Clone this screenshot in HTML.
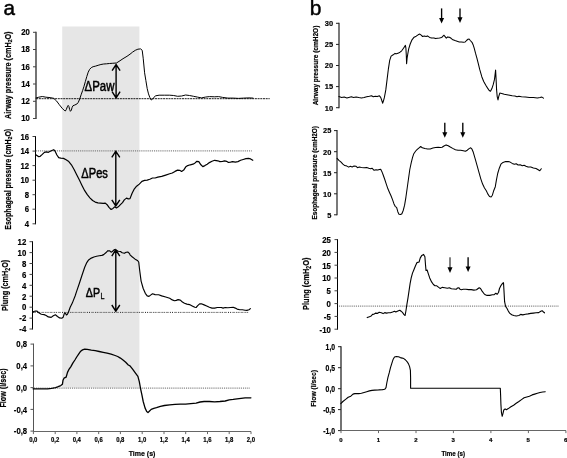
<!DOCTYPE html>
<html><head><meta charset="utf-8"><title>Figure</title>
<style>
html,body{margin:0;padding:0;background:#fff;}
body{width:567px;height:458px;overflow:hidden;}
svg{display:block;font-family:"Liberation Sans",sans-serif;fill:#000;will-change:transform;filter:grayscale(1);}
</style></head><body>
<svg width="567" height="458" viewBox="0 0 567 458">
<rect x="0" y="0" width="567" height="458" fill="#fff"/>
<rect x="62.2" y="26.5" width="77.2" height="361.2" fill="#e6e6e6"/>
<text x="3.5" y="14.6" font-size="20.6" stroke="#000" stroke-width="0.5">a</text>
<path d="M36.0,31.799999999999997 V119.0" stroke="#000" stroke-width="1.1" fill="none"/>
<path d="M33.0,32.3 H36.0M33.0,49.5 H36.0M33.0,66.8 H36.0M33.0,84.0 H36.0M33.0,101.3 H36.0M33.0,118.5 H36.0" stroke="#444" stroke-width="1" fill="none"/>
<text transform="translate(29.9,35.14) scale(0.86,1)" font-size="9.0" font-weight="bold" text-anchor="end" stroke="#000" stroke-width="0.2">20</text>
<text transform="translate(29.9,52.38) scale(0.86,1)" font-size="9.0" font-weight="bold" text-anchor="end" stroke="#000" stroke-width="0.2">18</text>
<text transform="translate(29.9,69.62) scale(0.86,1)" font-size="9.0" font-weight="bold" text-anchor="end" stroke="#000" stroke-width="0.2">16</text>
<text transform="translate(29.9,86.86) scale(0.86,1)" font-size="9.0" font-weight="bold" text-anchor="end" stroke="#000" stroke-width="0.2">14</text>
<text transform="translate(29.9,104.10) scale(0.86,1)" font-size="9.0" font-weight="bold" text-anchor="end" stroke="#000" stroke-width="0.2">12</text>
<text transform="translate(29.9,121.34) scale(0.86,1)" font-size="9.0" font-weight="bold" text-anchor="end" stroke="#000" stroke-width="0.2">10</text>
<text transform="translate(10.8,75.2) rotate(-90)" font-size="8.4" font-weight="bold" text-anchor="middle" textLength="87.5" lengthAdjust="spacingAndGlyphs" stroke="#000" stroke-width="0.2">Airway pressure (cmH<tspan font-size="70%" dy="1.2">2</tspan><tspan dy="-1.2">O</tspan>)</text>
<path d="M36.2,98.7 H269.7" stroke="#000" stroke-width="0.9" stroke-dasharray="2 0.7" fill="none"/>
<path d="M35.5,136.0 V224.3" stroke="#000" stroke-width="1.0" fill="none"/>
<path d="M32.5,136.5 H35.5M32.5,151.1 H35.5M32.5,165.6 H35.5M32.5,180.2 H35.5M32.5,194.7 H35.5M32.5,209.2 H35.5M32.5,223.8 H35.5" stroke="#444" stroke-width="1" fill="none"/>
<text transform="translate(29.0,139.74) scale(0.86,1)" font-size="9.0" font-weight="bold" text-anchor="end" stroke="#000" stroke-width="0.2">16</text>
<text transform="translate(29.0,154.29) scale(0.86,1)" font-size="9.0" font-weight="bold" text-anchor="end" stroke="#000" stroke-width="0.2">14</text>
<text transform="translate(29.0,168.84) scale(0.86,1)" font-size="9.0" font-weight="bold" text-anchor="end" stroke="#000" stroke-width="0.2">12</text>
<text transform="translate(29.0,183.39) scale(0.86,1)" font-size="9.0" font-weight="bold" text-anchor="end" stroke="#000" stroke-width="0.2">10</text>
<text transform="translate(29.0,197.94) scale(0.86,1)" font-size="9.0" font-weight="bold" text-anchor="end" stroke="#000" stroke-width="0.2">8</text>
<text transform="translate(29.0,212.49) scale(0.86,1)" font-size="9.0" font-weight="bold" text-anchor="end" stroke="#000" stroke-width="0.2">6</text>
<text transform="translate(29.0,227.04) scale(0.86,1)" font-size="9.0" font-weight="bold" text-anchor="end" stroke="#000" stroke-width="0.2">4</text>
<text transform="translate(10.6,179.3) rotate(-90)" font-size="8.4" font-weight="bold" text-anchor="middle" textLength="101" lengthAdjust="spacingAndGlyphs" stroke="#000" stroke-width="0.2">Esophageal pressure (cmH<tspan font-size="70%" dy="1.2">2</tspan><tspan dy="-1.2">O</tspan>)</text>
<path d="M36.2,150.9 H251.7" stroke="#7a7a7a" stroke-width="1.25" stroke-dasharray="0.95 0.95" fill="none"/>
<path d="M32.5,241.2 V329.5" stroke="#000" stroke-width="1.0" fill="none"/>
<path d="M29.5,241.7 H32.5M29.5,252.6 H32.5M29.5,263.5 H32.5M29.5,274.4 H32.5M29.5,285.3 H32.5M29.5,296.2 H32.5M29.5,307.2 H32.5M29.5,318.1 H32.5M29.5,329.0 H32.5" stroke="#444" stroke-width="1" fill="none"/>
<text transform="translate(26.3,245.01) scale(0.85,1)" font-size="9.2" font-weight="bold" text-anchor="end" stroke="#000" stroke-width="0.2">12</text>
<text transform="translate(26.3,255.92) scale(0.85,1)" font-size="9.2" font-weight="bold" text-anchor="end" stroke="#000" stroke-width="0.2">10</text>
<text transform="translate(26.3,266.83) scale(0.85,1)" font-size="9.2" font-weight="bold" text-anchor="end" stroke="#000" stroke-width="0.2">8</text>
<text transform="translate(26.3,277.74) scale(0.85,1)" font-size="9.2" font-weight="bold" text-anchor="end" stroke="#000" stroke-width="0.2">6</text>
<text transform="translate(26.3,288.65) scale(0.85,1)" font-size="9.2" font-weight="bold" text-anchor="end" stroke="#000" stroke-width="0.2">4</text>
<text transform="translate(26.3,299.56) scale(0.85,1)" font-size="9.2" font-weight="bold" text-anchor="end" stroke="#000" stroke-width="0.2">2</text>
<text transform="translate(26.3,310.47) scale(0.85,1)" font-size="9.2" font-weight="bold" text-anchor="end" stroke="#000" stroke-width="0.2">0</text>
<text transform="translate(26.3,321.38) scale(0.85,1)" font-size="9.2" font-weight="bold" text-anchor="end" stroke="#000" stroke-width="0.2">-2</text>
<text transform="translate(26.3,332.29) scale(0.85,1)" font-size="9.2" font-weight="bold" text-anchor="end" stroke="#000" stroke-width="0.2">-4</text>
<text transform="translate(8.3,285.4) rotate(-90)" font-size="9.6" font-weight="bold" text-anchor="middle" textLength="51.3" lengthAdjust="spacingAndGlyphs" stroke="#000" stroke-width="0.2">Plung (cmH<tspan font-size="70%" dy="1.2">2</tspan><tspan dy="-1.2">O</tspan>)</text>
<path d="M33,312.4 H249" stroke="#808080" stroke-width="1" stroke-dasharray="3 5.3" fill="none"/><path d="M33,312.4 H249" stroke="#222" stroke-width="1" stroke-dasharray="0 4.1 1 1.1 1 1.1" fill="none"/>
<path d="M33.5,343.6 V432.0" stroke="#555" stroke-width="1.0" fill="none"/>
<path d="M30.5,344.1 H33.5M30.5,365.9 H33.5M30.5,387.6 H33.5M30.5,409.4 H33.5M30.5,431.1 H33.5" stroke="#555" stroke-width="1" fill="none"/>
<text transform="translate(27.1,347.45) scale(0.83,1)" font-size="9.3" font-weight="bold" text-anchor="end" stroke="#000" stroke-width="0.2">0,8</text>
<text transform="translate(27.1,369.20) scale(0.83,1)" font-size="9.3" font-weight="bold" text-anchor="end" stroke="#000" stroke-width="0.2">0,4</text>
<text transform="translate(27.1,390.95) scale(0.83,1)" font-size="9.3" font-weight="bold" text-anchor="end" stroke="#000" stroke-width="0.2">0,0</text>
<text transform="translate(27.1,412.70) scale(0.83,1)" font-size="9.3" font-weight="bold" text-anchor="end" stroke="#000" stroke-width="0.2">-0,4</text>
<text transform="translate(27.1,434.45) scale(0.83,1)" font-size="9.3" font-weight="bold" text-anchor="end" stroke="#000" stroke-width="0.2">-0,8</text>
<text transform="translate(6.0,387.9) rotate(-90)" font-size="9.0" font-weight="bold" text-anchor="middle" textLength="39.3" lengthAdjust="spacingAndGlyphs" stroke="#000" stroke-width="0.2">Flow (l/sec)</text>
<path d="M34,388.0 H249.6" stroke="#7a7a7a" stroke-width="1.25" stroke-dasharray="0.95 0.95" fill="none"/>
<path d="M33,431.5 H251" stroke="#666" stroke-width="1" fill="none"/>
<path d="M33.4,431.5 v2.6M55.2,431.5 v2.6M76.9,431.5 v2.6M98.7,431.5 v2.6M120.4,431.5 v2.6M142.2,431.5 v2.6M164.0,431.5 v2.6M185.7,431.5 v2.6M207.5,431.5 v2.6M229.2,431.5 v2.6M251.0,431.5 v2.6" stroke="#666" stroke-width="1" fill="none"/>
<text transform="translate(33.3,441.9) scale(0.9,1)" font-size="6.6" font-weight="bold" text-anchor="middle" stroke="#000" stroke-width="0.2">0,0</text>
<text transform="translate(55.1,441.9) scale(0.9,1)" font-size="6.6" font-weight="bold" text-anchor="middle" stroke="#000" stroke-width="0.2">0,2</text>
<text transform="translate(76.8,441.9) scale(0.9,1)" font-size="6.6" font-weight="bold" text-anchor="middle" stroke="#000" stroke-width="0.2">0,4</text>
<text transform="translate(98.6,441.9) scale(0.9,1)" font-size="6.6" font-weight="bold" text-anchor="middle" stroke="#000" stroke-width="0.2">0,6</text>
<text transform="translate(120.3,441.9) scale(0.9,1)" font-size="6.6" font-weight="bold" text-anchor="middle" stroke="#000" stroke-width="0.2">0,8</text>
<text transform="translate(142.1,441.9) scale(0.9,1)" font-size="6.6" font-weight="bold" text-anchor="middle" stroke="#000" stroke-width="0.2">1,0</text>
<text transform="translate(163.9,441.9) scale(0.9,1)" font-size="6.6" font-weight="bold" text-anchor="middle" stroke="#000" stroke-width="0.2">1,2</text>
<text transform="translate(185.6,441.9) scale(0.9,1)" font-size="6.6" font-weight="bold" text-anchor="middle" stroke="#000" stroke-width="0.2">1,4</text>
<text transform="translate(207.4,441.9) scale(0.9,1)" font-size="6.6" font-weight="bold" text-anchor="middle" stroke="#000" stroke-width="0.2">1,6</text>
<text transform="translate(229.1,441.9) scale(0.9,1)" font-size="6.6" font-weight="bold" text-anchor="middle" stroke="#000" stroke-width="0.2">1,8</text>
<text transform="translate(250.9,441.9) scale(0.9,1)" font-size="6.6" font-weight="bold" text-anchor="middle" stroke="#000" stroke-width="0.2">2,0</text>
<text x="128.7" y="456.3" font-size="8" font-weight="bold" textLength="26.7" lengthAdjust="spacingAndGlyphs" stroke="#000" stroke-width="0.2">Time (s)</text>
<text x="309.8" y="14.7" font-size="21" stroke="#000" stroke-width="0.45">b</text>
<path d="M339.0,22.8 V108.2" stroke="#000" stroke-width="1.05" fill="none"/>
<path d="M336.0,23.3 H339.0M336.0,44.4 H339.0M336.0,65.5 H339.0M336.0,86.6 H339.0M336.0,107.7 H339.0" stroke="#222" stroke-width="1" fill="none"/>
<text transform="translate(333.1,26.18) scale(0.93,1)" font-size="8.0" font-weight="bold" text-anchor="end" stroke="#000" stroke-width="0.2">30</text>
<text transform="translate(333.1,47.28) scale(0.93,1)" font-size="8.0" font-weight="bold" text-anchor="end" stroke="#000" stroke-width="0.2">25</text>
<text transform="translate(333.1,68.38) scale(0.93,1)" font-size="8.0" font-weight="bold" text-anchor="end" stroke="#000" stroke-width="0.2">20</text>
<text transform="translate(333.1,89.48) scale(0.93,1)" font-size="8.0" font-weight="bold" text-anchor="end" stroke="#000" stroke-width="0.2">15</text>
<text transform="translate(333.1,110.58) scale(0.93,1)" font-size="8.0" font-weight="bold" text-anchor="end" stroke="#000" stroke-width="0.2">10</text>
<text transform="translate(318.1,65.5) rotate(-90)" font-size="7.4" font-weight="bold" text-anchor="middle" textLength="79.7" lengthAdjust="spacingAndGlyphs" stroke="#000" stroke-width="0.2">Airway pressure (cmH2O)</text>
<path d="M337.0,130.1 V215.3" stroke="#000" stroke-width="1.05" fill="none"/>
<path d="M334.0,130.6 H337.0M334.0,151.7 H337.0M334.0,172.7 H337.0M334.0,193.8 H337.0M334.0,214.8 H337.0" stroke="#222" stroke-width="1" fill="none"/>
<text transform="translate(331.3,133.48) scale(0.93,1)" font-size="8.0" font-weight="bold" text-anchor="end" stroke="#000" stroke-width="0.2">25</text>
<text transform="translate(331.3,154.53) scale(0.93,1)" font-size="8.0" font-weight="bold" text-anchor="end" stroke="#000" stroke-width="0.2">20</text>
<text transform="translate(331.3,175.58) scale(0.93,1)" font-size="8.0" font-weight="bold" text-anchor="end" stroke="#000" stroke-width="0.2">15</text>
<text transform="translate(331.3,196.63) scale(0.93,1)" font-size="8.0" font-weight="bold" text-anchor="end" stroke="#000" stroke-width="0.2">10</text>
<text transform="translate(331.3,217.68) scale(0.93,1)" font-size="8.0" font-weight="bold" text-anchor="end" stroke="#000" stroke-width="0.2">5</text>
<text transform="translate(317.4,172.75) rotate(-90)" font-size="7.4" font-weight="bold" text-anchor="middle" textLength="93.5" lengthAdjust="spacingAndGlyphs" stroke="#000" stroke-width="0.2">Esophageal pressure (cmH2O)</text>
<path d="M337.5,239.1 V329.7" stroke="#000" stroke-width="1.0" fill="none"/>
<path d="M334.5,239.6 H337.5M334.5,252.4 H337.5M334.5,265.2 H337.5M334.5,278.0 H337.5M334.5,290.8 H337.5M334.5,303.6 H337.5M334.5,316.4 H337.5M334.5,329.2 H337.5" stroke="#444" stroke-width="1" fill="none"/>
<text transform="translate(330.8,242.98) scale(0.83,1)" font-size="9.4" font-weight="bold" text-anchor="end" stroke="#000" stroke-width="0.2">25</text>
<text transform="translate(330.8,255.78) scale(0.83,1)" font-size="9.4" font-weight="bold" text-anchor="end" stroke="#000" stroke-width="0.2">20</text>
<text transform="translate(330.8,268.58) scale(0.83,1)" font-size="9.4" font-weight="bold" text-anchor="end" stroke="#000" stroke-width="0.2">15</text>
<text transform="translate(330.8,281.38) scale(0.83,1)" font-size="9.4" font-weight="bold" text-anchor="end" stroke="#000" stroke-width="0.2">10</text>
<text transform="translate(330.8,294.18) scale(0.83,1)" font-size="9.4" font-weight="bold" text-anchor="end" stroke="#000" stroke-width="0.2">5</text>
<text transform="translate(330.8,306.98) scale(0.83,1)" font-size="9.4" font-weight="bold" text-anchor="end" stroke="#000" stroke-width="0.2">0</text>
<text transform="translate(330.8,319.78) scale(0.83,1)" font-size="9.4" font-weight="bold" text-anchor="end" stroke="#000" stroke-width="0.2">-5</text>
<text transform="translate(330.8,332.58) scale(0.83,1)" font-size="9.4" font-weight="bold" text-anchor="end" stroke="#000" stroke-width="0.2">-10</text>
<text transform="translate(309.3,283.75) rotate(-90)" font-size="9.8" font-weight="bold" text-anchor="middle" textLength="52.3" lengthAdjust="spacingAndGlyphs" stroke="#000" stroke-width="0.2">Plung (cmH<tspan font-size="70%" dy="1.2">2</tspan><tspan dy="-1.2">O</tspan>)</text>
<path d="M339,306 H559" stroke="#7a7a7a" stroke-width="1.25" stroke-dasharray="0.95 0.95" fill="none"/>
<path d="M341.0,346.2 V431.1" stroke="#000" stroke-width="1.1" fill="none"/>
<path d="M338.0,346.7 H341.0M338.0,367.7 H341.0M338.0,388.7 H341.0M338.0,409.6 H341.0M338.0,430.6 H341.0" stroke="#222" stroke-width="1" fill="none"/>
<text transform="translate(335.1,349.80) scale(0.8,1)" font-size="8.6" font-weight="bold" text-anchor="end" stroke="#000" stroke-width="0.2">1,0</text>
<text transform="translate(335.1,370.78) scale(0.8,1)" font-size="8.6" font-weight="bold" text-anchor="end" stroke="#000" stroke-width="0.2">0,5</text>
<text transform="translate(335.1,391.76) scale(0.8,1)" font-size="8.6" font-weight="bold" text-anchor="end" stroke="#000" stroke-width="0.2">0,0</text>
<text transform="translate(335.1,412.74) scale(0.8,1)" font-size="8.6" font-weight="bold" text-anchor="end" stroke="#000" stroke-width="0.2">-0,5</text>
<text transform="translate(335.1,433.72) scale(0.8,1)" font-size="8.6" font-weight="bold" text-anchor="end" stroke="#000" stroke-width="0.2">-1,0</text>
<text transform="translate(315.8,388.3) rotate(-90)" font-size="7.2" font-weight="bold" text-anchor="middle" textLength="36.7" lengthAdjust="spacingAndGlyphs" stroke="#000" stroke-width="0.2">Flow (l/sec)</text>
<path d="M340.5,430.5 H566" stroke="#666" stroke-width="1" fill="none"/>
<path d="M341.0,430.5 v2.6M378.5,430.5 v2.6M416.0,430.5 v2.6M453.4,430.5 v2.6M490.9,430.5 v2.6M528.4,430.5 v2.6M565.9,430.5 v2.6" stroke="#666" stroke-width="1" fill="none"/>
<text x="340.8" y="442" font-size="6" font-weight="bold" text-anchor="middle" stroke="#000" stroke-width="0.2">0</text>
<text x="378.3" y="442" font-size="6" font-weight="bold" text-anchor="middle" stroke="#000" stroke-width="0.2">1</text>
<text x="415.8" y="442" font-size="6" font-weight="bold" text-anchor="middle" stroke="#000" stroke-width="0.2">2</text>
<text x="453.2" y="442" font-size="6" font-weight="bold" text-anchor="middle" stroke="#000" stroke-width="0.2">3</text>
<text x="490.7" y="442" font-size="6" font-weight="bold" text-anchor="middle" stroke="#000" stroke-width="0.2">4</text>
<text x="528.2" y="442" font-size="6" font-weight="bold" text-anchor="middle" stroke="#000" stroke-width="0.2">5</text>
<text x="565.7" y="442" font-size="6" font-weight="bold" text-anchor="middle" stroke="#000" stroke-width="0.2">6</text>
<text x="441.4" y="456.3" font-size="7.2" font-weight="bold" textLength="23.6" lengthAdjust="spacingAndGlyphs" stroke="#000" stroke-width="0.2">Time (s)</text>
<path d="M36.0,98.0 L38.8,97.2 L42.3,96.5 L45.9,97.2 L50.1,97.6 L53.6,98.3 L56.5,100.9 L59.3,104.7 L62.1,108.2 L64.2,110.3 L65.3,111.0 L66.3,109.6 L67.3,106.8 L68.2,105.4 L68.9,106.5 L69.6,109.3 L70.4,111.3 L71.3,110.3 L72.1,107.5 L73.0,105.7 L74.8,105.0 L76.9,104.0 L78.3,102.3 L79.7,99.0 L81.1,94.8 L82.6,90.6 L84.0,86.3 L85.4,81.4 L86.8,76.5 L88.2,72.2 L89.6,69.4 L91.3,67.6 L93.1,66.7 L95.3,66.2 L98.1,65.3 L100.9,64.5 L103.7,64.0 L106.5,63.8 L109.4,63.5 L112.2,63.3 L115.0,63.1 L116.4,63.0 L119.0,61.4 L123.0,58.7 L127.0,56.3 L130.0,54.2 L132.6,52.1 L135.3,50.3 L137.9,49.2 L140.6,48.9 L142.2,50.3 L143.2,58.2 L144.6,72.8 L145.9,80.7 L147.2,88.6 L148.5,93.9 L149.8,97.4 L151.2,100.0 L152.5,99.2 L153.8,97.4 L155.7,95.8 L159.1,95.2 L164.4,95.2 L169.7,95.2 L173.7,95.5 L177.6,96.3 L181.6,96.0 L185.6,95.0 L189.5,95.5 L193.5,96.3 L197.5,97.1 L201.4,97.9 L205.4,97.1 L209.4,96.6 L214.7,96.8 L218.6,96.6 L222.6,97.4 L227.9,98.1 L233.2,98.1 L238.5,98.4 L243.8,98.1 L249.0,97.9 L253.0,98.1" stroke="#000" stroke-width="1.0" fill="none" stroke-linejoin="round" stroke-linecap="round"/>
<path d="M36.2,155.0 L38.4,156.6 L40.2,156.3 L42.3,154.4 L44.4,152.3 L46.3,151.8 L48.4,152.3 L50.3,151.3 L52.4,150.2 L53.7,149.7 L55.0,151.0 L56.9,155.0 L58.7,157.6 L60.8,158.1 L63.5,158.4 L66.1,159.7 L68.8,161.6 L71.4,164.8 L74.1,169.5 L76.7,174.8 L79.4,180.1 L82.0,185.4 L84.7,190.7 L87.3,194.7 L89.9,197.8 L92.6,200.5 L95.2,202.1 L97.9,202.9 L100.5,203.1 L103.2,203.4 L105.3,203.1 L107.1,204.7 L109.0,207.4 L111.1,209.5 L113.0,208.4 L114.6,206.8 L116.4,207.9 L118.3,206.8 L120.4,204.7 L122.5,202.6 L124.3,199.9 L126.5,198.1 L128.3,198.9 L130.0,198.6 L132.1,193.3 L134.0,189.4 L136.6,186.2 L139.3,184.1 L141.9,181.4 L144.6,180.4 L147.2,180.1 L149.8,179.3 L152.5,178.0 L155.1,178.0 L157.8,177.2 L161.7,176.4 L165.7,175.1 L169.7,173.8 L172.3,173.0 L175.0,171.4 L177.6,170.1 L179.7,170.3 L181.6,171.4 L183.7,170.1 L185.6,167.1 L187.7,165.6 L190.3,164.8 L193.0,164.2 L195.1,162.9 L196.9,161.3 L198.8,161.6 L200.9,164.8 L202.8,166.6 L204.9,165.6 L207.2,164.2 L209.4,162.6 L212.0,161.3 L214.7,160.3 L217.8,160.8 L219.9,161.6 L222.6,161.3 L224.7,160.8 L226.6,161.3 L228.4,162.4 L230.5,162.1 L232.6,161.6 L235.3,162.1 L237.9,161.6 L240.6,160.3 L243.2,159.5 L245.9,158.7 L248.5,158.4 L250.6,158.9 L252.8,160.3" stroke="#000" stroke-width="1.2" fill="none" stroke-linejoin="round" stroke-linecap="round"/>
<path d="M32.5,312.6 L33.8,311.5 L35.4,311.0 L37.1,311.1 L38.2,312.1 L39.2,313.1 L41.3,314.3 L44.1,314.6 L46.2,315.5 L48.3,316.9 L51.2,317.4 L53.3,315.8 L55.4,314.8 L57.5,316.5 L59.6,317.9 L61.7,318.2 L63.2,317.2 L64.3,313.6 L65.3,312.9 L66.4,315.0 L67.4,314.3 L68.4,312.2 L70.2,307.3 L72.3,303.1 L75.1,296.0 L76.7,291.1 L79.4,283.2 L82.0,275.3 L84.7,267.3 L86.8,262.6 L88.6,259.9 L91.3,258.1 L93.9,257.0 L96.6,256.2 L99.2,255.7 L101.9,255.4 L103.7,254.6 L105.8,252.8 L107.9,250.7 L109.8,250.9 L111.1,252.2 L112.4,251.5 L114.3,249.6 L116.4,250.4 L118.3,251.2 L120.4,251.5 L122.2,252.8 L124.3,253.3 L126.2,252.2 L127.8,252.0 L129.6,253.6 L130.0,254.9 L132.1,256.7 L134.8,258.9 L137.4,260.4 L138.7,262.0 L139.8,271.3 L141.1,281.1 L143.2,288.5 L145.3,293.3 L147.2,295.9 L149.0,296.4 L150.6,295.1 L152.5,293.8 L155.1,294.6 L158.6,294.8 L161.7,295.9 L165.7,297.0 L169.7,298.3 L172.3,299.9 L174.4,300.7 L176.3,300.4 L178.1,299.6 L180.3,300.1 L182.4,302.0 L184.5,303.3 L186.9,304.1 L189.5,304.6 L192.2,306.0 L194.8,307.3 L196.1,307.5 L197.7,305.7 L199.6,303.8 L201.4,303.8 L204.1,304.9 L206.7,306.0 L209.4,307.3 L212.0,308.1 L214.7,308.1 L217.3,307.5 L221.3,307.5 L223.1,308.1 L225.2,307.5 L227.9,307.8 L230.5,307.5 L233.2,307.3 L235.3,308.1 L237.1,309.1 L239.8,309.7 L242.4,309.7 L245.1,310.2 L246.9,310.4 L249.0,309.7 L250.4,308.6" stroke="#000" stroke-width="1.15" fill="none" stroke-linejoin="round" stroke-linecap="round"/>
<path d="M33.1,388.8 L37.0,388.8 L42.3,388.8 L47.6,388.8 L51.6,388.3 L55.6,387.7 L58.2,386.7 L60.8,385.6 L62.4,384.3 L63.0,380.3 L64.0,378.2 L66.1,377.2 L67.5,372.4 L68.8,369.7 L70.9,366.6 L72.8,363.1 L74.9,360.0 L76.7,357.0 L78.8,353.9 L80.7,351.2 L82.5,349.9 L84.7,349.1 L87.3,349.4 L91.3,350.2 L95.2,350.7 L99.2,351.5 L103.2,352.3 L107.1,353.1 L111.1,354.1 L115.1,355.5 L117.7,356.5 L120.4,358.1 L123.0,360.0 L125.7,362.3 L128.3,365.0 L130.0,365.8 L132.6,369.2 L135.3,372.9 L137.9,376.4 L139.3,381.7 L140.6,388.8 L141.9,394.9 L143.2,401.5 L145.1,408.1 L146.7,411.5 L148.0,412.6 L149.3,411.3 L151.2,409.4 L153.8,408.4 L156.5,407.6 L160.4,406.3 L164.4,405.5 L169.7,404.9 L175.0,404.4 L180.3,404.1 L185.6,404.1 L190.8,403.6 L196.1,403.1 L200.1,402.0 L204.1,401.5 L209.4,401.5 L214.7,401.8 L219.9,401.5 L225.2,401.0 L229.2,399.9 L233.2,399.4 L237.1,398.8 L241.1,398.3 L245.1,397.8 L249.0,397.8 L250.9,397.8" stroke="#000" stroke-width="1.3" fill="none" stroke-linejoin="round" stroke-linecap="round"/>
<path d="M338.9,96.6 L341.6,97.4 L344.2,97.1 L346.9,97.9 L348.7,97.4 L351.4,96.8 L353.5,97.4 L356.1,97.1 L358.8,97.6 L361.4,97.9 L364.1,97.6 L366.7,96.8 L369.4,96.3 L371.5,95.8 L373.3,96.8 L375.2,96.3 L377.3,96.6 L379.4,95.8 L380.7,97.4 L381.8,100.5 L382.6,103.2 L383.4,101.1 L384.4,97.4 L385.8,89.9 L387.1,79.4 L388.4,68.8 L389.7,60.3 L391.1,56.1 L393.2,54.8 L395.0,53.4 L396.6,53.7 L398.5,52.9 L400.0,52.2 L401.7,50.8 L403.5,48.2 L405.4,45.4 L405.9,48.2 L406.3,55.3 L406.6,63.7 L407.1,58.1 L407.8,53.9 L408.7,48.9 L410.2,44.0 L412.0,39.8 L414.1,37.2 L416.2,36.2 L418.1,34.8 L419.8,34.1 L421.2,35.2 L422.6,36.5 L424.3,36.1 L426.1,36.5 L427.5,35.9 L429.6,37.4 L431.7,38.1 L433.9,37.9 L435.6,38.6 L437.4,38.3 L439.5,38.1 L441.6,37.6 L443.0,36.2 L444.0,35.2 L445.1,36.6 L446.3,38.1 L447.7,36.9 L449.4,37.2 L451.1,38.3 L452.9,39.8 L455.0,40.6 L457.1,41.2 L459.3,41.9 L461.4,42.0 L463.5,42.3 L465.2,41.9 L466.6,40.5 L468.0,39.2 L469.1,39.0 L470.3,40.5 L472.0,42.3 L473.1,44.7 L474.2,48.2 L475.5,53.2 L476.9,58.1 L478.3,63.7 L479.7,69.4 L481.8,76.7 L483.7,81.5 L485.8,85.2 L487.6,88.1 L489.2,90.5 L490.5,91.3 L491.9,88.6 L493.2,84.7 L494.5,79.4 L495.6,70.1 L496.1,79.4 L496.6,89.9 L497.2,96.6 L498.0,100.0 L498.7,96.6 L499.8,93.1 L501.7,93.4 L504.3,94.2 L506.9,94.7 L509.6,95.2 L512.2,95.8 L514.9,96.0 L517.0,96.8 L518.9,96.3 L521.5,96.8 L525.5,97.1 L529.4,97.4 L533.4,97.6 L537.4,97.9 L540.0,97.6 L541.9,97.1 L543.5,98.1" stroke="#000" stroke-width="1.05" fill="none" stroke-linejoin="round" stroke-linecap="round"/>
<path d="M337.1,158.4 L338.9,160.3 L340.8,161.9 L342.9,164.2 L344.8,165.6 L346.9,166.1 L348.7,167.1 L350.3,166.3 L352.2,166.9 L354.0,166.1 L356.1,166.3 L357.5,167.7 L359.3,167.1 L361.4,167.4 L364.1,167.7 L366.7,167.4 L368.8,168.2 L370.7,168.7 L372.0,168.2 L374.1,170.3 L376.0,169.8 L377.8,170.1 L379.4,169.5 L380.7,169.3 L381.8,171.4 L383.1,174.8 L384.7,179.3 L386.3,184.1 L387.9,188.8 L389.5,192.5 L391.1,196.0 L392.6,199.9 L394.0,203.9 L395.3,206.6 L396.6,207.4 L397.9,211.9 L399.0,214.2 L400.6,214.5 L401.9,213.7 L403.2,210.5 L404.6,205.2 L405.9,197.3 L407.2,188.0 L408.5,178.8 L409.8,169.5 L411.2,162.9 L412.5,157.6 L413.8,153.7 L415.7,151.0 L417.0,149.7 L419.1,147.8 L420.7,146.5 L422.3,147.8 L424.9,148.6 L427.6,148.9 L430.2,148.9 L432.9,148.1 L435.5,147.6 L438.2,147.3 L440.3,147.6 L442.1,147.3 L444.0,146.0 L446.1,144.9 L448.2,145.7 L450.3,147.0 L452.7,148.4 L455.4,149.7 L458.0,150.2 L460.7,150.2 L463.3,150.7 L465.4,151.3 L467.3,150.2 L469.1,148.6 L470.7,147.8 L472.0,149.2 L473.3,152.3 L475.2,158.9 L477.1,165.6 L478.9,172.2 L480.8,178.8 L482.6,184.1 L484.5,188.0 L486.3,190.7 L487.9,194.1 L489.5,196.5 L491.1,197.0 L492.4,195.2 L493.7,190.7 L495.3,186.7 L496.4,180.1 L497.7,173.5 L499.3,168.2 L500.9,164.2 L503.0,162.4 L505.6,161.6 L508.3,161.6 L510.1,162.1 L512.2,163.4 L514.4,164.2 L516.2,163.7 L518.1,165.0 L520.2,164.8 L522.3,165.8 L524.1,165.3 L526.0,166.3 L528.1,167.1 L530.8,166.9 L533.4,167.9 L536.0,168.5 L538.2,169.8 L539.8,170.8 L541.3,168.7" stroke="#000" stroke-width="1.05" fill="none" stroke-linejoin="round" stroke-linecap="round"/>
<path d="M367.2,317.6 L369.4,316.8 L371.2,316.0 L372.5,314.4 L374.1,314.2 L375.4,313.1 L377.3,313.4 L379.2,312.3 L381.3,312.8 L383.1,313.6 L384.7,312.6 L386.6,313.1 L388.4,312.8 L390.5,312.8 L392.6,312.0 L394.5,311.2 L395.8,312.0 L397.9,311.0 L399.8,310.2 L401.1,311.2 L402.4,312.3 L403.8,314.4 L405.1,315.5 L405.9,311.0 L406.9,304.4 L408.0,297.8 L409.0,291.1 L410.1,283.7 L411.2,277.9 L412.5,273.1 L413.8,270.0 L415.4,266.0 L417.0,262.6 L419.1,262.0 L420.2,258.1 L421.8,255.4 L423.6,254.4 L424.9,256.7 L425.5,264.7 L426.0,270.5 L427.1,270.0 L428.1,273.1 L429.7,277.9 L431.6,281.9 L433.4,284.5 L435.0,285.8 L436.8,285.8 L438.7,287.4 L440.3,288.5 L442.1,287.4 L444.8,287.7 L447.4,288.2 L449.3,287.7 L451.4,288.8 L454.0,289.0 L456.2,289.3 L457.5,288.0 L458.8,287.7 L460.1,289.3 L461.4,289.8 L463.3,289.3 L465.9,289.3 L468.6,289.6 L471.2,289.6 L473.9,290.1 L476.5,289.8 L477.8,288.8 L479.2,287.7 L480.5,288.5 L482.1,291.1 L483.7,293.3 L485.3,294.8 L487.1,295.4 L489.8,295.4 L492.4,294.8 L494.2,294.6 L495.8,293.3 L497.2,294.3 L498.5,292.5 L499.5,288.5 L501.1,285.3 L502.7,283.2 L503.5,282.7 L504.0,291.1 L504.6,301.7 L505.6,306.5 L506.9,308.3 L508.3,311.0 L509.6,313.1 L511.7,314.7 L513.8,315.5 L516.2,316.0 L518.9,315.5 L520.7,314.4 L522.8,314.9 L525.5,314.2 L528.1,313.9 L530.8,313.4 L533.4,313.1 L536.0,312.8 L538.7,312.6 L540.8,311.2 L542.1,310.7 L543.5,312.0 L544.5,312.8" stroke="#000" stroke-width="1.1" fill="none" stroke-linejoin="round" stroke-linecap="round"/>
<path d="M340.8,403.6 L342.9,401.5 L345.6,399.4 L348.2,397.3 L350.8,396.2 L353.0,394.1 L354.8,393.6 L358.8,393.6 L361.4,393.3 L364.1,392.5 L366.7,391.7 L369.4,390.9 L372.0,390.4 L374.7,390.1 L378.6,389.9 L382.6,389.6 L384.7,389.3 L386.0,387.7 L386.8,383.0 L387.9,377.7 L389.2,372.9 L390.5,367.6 L391.9,363.1 L393.2,359.2 L394.5,357.0 L396.3,356.5 L398.5,356.8 L400.3,357.6 L402.2,358.1 L403.8,358.6 L405.6,360.0 L407.2,361.8 L408.5,363.9 L409.6,366.6 L410.4,370.3 L410.6,377.7 L410.6,388.3 L414.3,388.3 L417.0,388.3 L500.3,388.3 L500.6,394.9 L500.9,404.1 L501.4,412.1 L502.2,416.3 L503.0,413.4 L503.8,410.0 L505.1,408.9 L506.4,409.7 L508.3,408.6 L510.9,406.8 L513.6,405.2 L516.2,403.3 L518.9,401.5 L521.5,399.6 L524.1,397.8 L526.8,397.0 L529.4,396.2 L532.1,394.9 L534.7,394.1 L537.4,393.3 L540.0,392.5 L542.7,392.0 L545.3,391.7" stroke="#000" stroke-width="1.1" fill="none" stroke-linejoin="round" stroke-linecap="round"/>
<path d="M116.1,64.5 V97.9 M112.1,70.7 L116.1,64.5 L120.1,70.7 M112.1,91.7 L116.1,97.9 L120.1,91.7" stroke="#000" stroke-width="1.4" fill="none" stroke-linejoin="miter"/>
<path d="M115.8,151.2 V206.0 M111.8,157.39999999999998 L115.8,151.2 L119.8,157.39999999999998 M111.8,199.8 L115.8,206.0 L119.8,199.8" stroke="#000" stroke-width="1.4" fill="none" stroke-linejoin="miter"/>
<path d="M115.8,249.9 V311.2 M111.8,256.1 L115.8,249.9 L119.8,256.1 M111.8,305.0 L115.8,311.2 L119.8,305.0" stroke="#000" stroke-width="1.4" fill="none" stroke-linejoin="miter"/>
<text x="84.6" y="90.5" font-size="13.8" textLength="29.8" lengthAdjust="spacingAndGlyphs" stroke="#000" stroke-width="0.5">ΔPaw</text>
<text x="81.3" y="178.0" font-size="13.8" textLength="26.6" lengthAdjust="spacingAndGlyphs" stroke="#000" stroke-width="0.5">ΔPes</text>
<text x="85.8" y="296.8" font-size="13.2" textLength="14.2" lengthAdjust="spacingAndGlyphs" stroke="#000" stroke-width="0.5">ΔP</text><text x="100.5" y="299.3" font-size="8.6" textLength="4" lengthAdjust="spacingAndGlyphs" stroke="#000" stroke-width="0.3">L</text>
<path d="M441.6,8.4 V19.0" stroke="#000" stroke-width="1.35" fill="none"/>
<path d="M439.1,18.0 L444.1,18.0 L441.6,23.6 Z" fill="#000"/>
<path d="M460.0,8.4 V18.299999999999997" stroke="#000" stroke-width="1.35" fill="none"/>
<path d="M457.5,17.299999999999997 L462.5,17.299999999999997 L460.0,22.9 Z" fill="#000"/>
<path d="M444.8,122.7 V133.20000000000002" stroke="#000" stroke-width="1.35" fill="none"/>
<path d="M442.3,132.20000000000002 L447.3,132.20000000000002 L444.8,137.8 Z" fill="#000"/>
<path d="M462.8,122.7 V133.20000000000002" stroke="#000" stroke-width="1.35" fill="none"/>
<path d="M460.3,132.20000000000002 L465.3,132.20000000000002 L462.8,137.8 Z" fill="#000"/>
<path d="M450.0,257.3 V268.29999999999995" stroke="#000" stroke-width="1.0" fill="none"/>
<path d="M447.5,267.29999999999995 L452.5,267.29999999999995 L450.0,272.9 Z" fill="#000"/>
<path d="M468.1,257.3 V267.4" stroke="#000" stroke-width="1.35" fill="none"/>
<path d="M465.6,266.4 L470.6,266.4 L468.1,272.0 Z" fill="#000"/>
</svg>
</body></html>
